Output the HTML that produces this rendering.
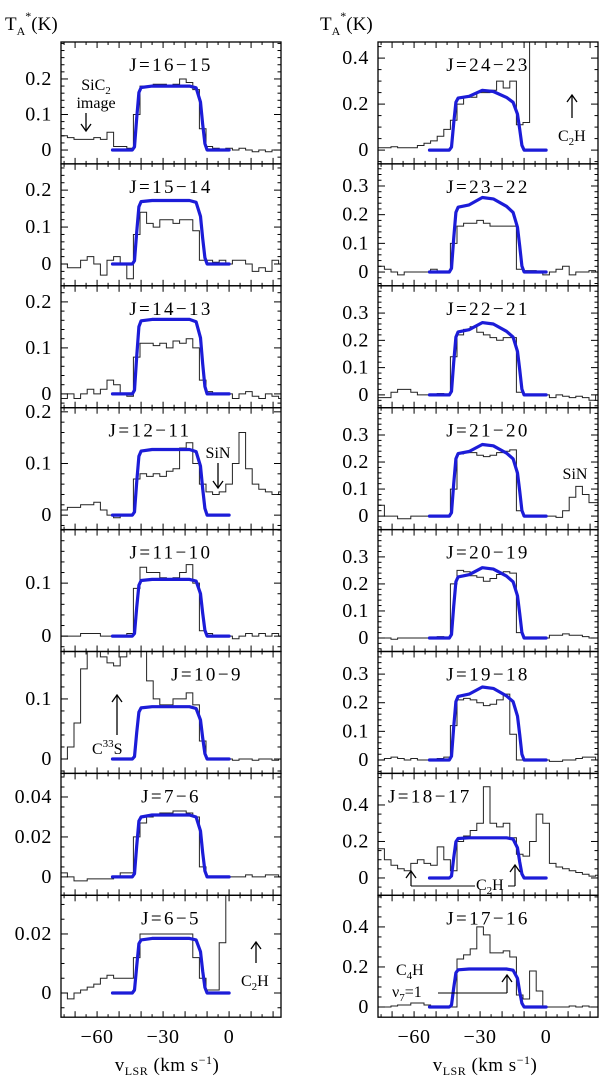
<!DOCTYPE html>
<html><head><meta charset="utf-8"><style>
html,body{margin:0;padding:0;background:#fff}
svg{display:block}
text{font-family:"Liberation Serif","DejaVu Serif",serif;fill:#000}
</style></head><body>
<svg id="chart" width="600" height="1079" viewBox="0 0 600 1079" xmlns="http://www.w3.org/2000/svg">
<defs id="defs"></defs>
<g id="panels"></g>
<g id="annot">
  <text x="5" y="30" font-size="19">T<tspan font-size="12" dy="5">A</tspan><tspan font-size="12" dy="-15">*</tspan><tspan dy="10">(K)</tspan></text>
  <text x="320" y="30" font-size="19">T<tspan font-size="12" dy="5">A</tspan><tspan font-size="12" dy="-15">*</tspan><tspan dy="10">(K)</tspan></text>
  <text x="167" y="1071" font-size="19" text-anchor="middle" letter-spacing="0.5">v<tspan font-size="12" dy="4">LSR</tspan><tspan dy="-4"> (km s</tspan><tspan font-size="12" dy="-7">−1</tspan><tspan dy="7">)</tspan></text>
  <text x="485" y="1071" font-size="19" text-anchor="middle" letter-spacing="0.5">v<tspan font-size="12" dy="4">LSR</tspan><tspan dy="-4"> (km s</tspan><tspan font-size="12" dy="-7">−1</tspan><tspan dy="7">)</tspan></text>
  <g>
    <text x="96" y="90" font-size="16" text-anchor="middle">SiC<tspan font-size="11" dy="4">2</tspan></text>
    <text x="96" y="108" font-size="16" text-anchor="middle">image</text>
    <line x1="86" y1="113" x2="86" y2="130" stroke="#000" stroke-width="1.3"/>
    <path d="M81,124 L86,131 L91,124" fill="none" stroke="#000" stroke-width="1.3"/>
  </g>
  <g>
    <text x="218" y="458" font-size="16" text-anchor="middle">SiN</text>
    <line x1="218" y1="463" x2="218" y2="488" stroke="#000" stroke-width="1.3"/>
    <path d="M213,481 L218,488 L223,481" fill="none" stroke="#000" stroke-width="1.3"/>
  </g>
  <g>
    <line x1="117" y1="695" x2="117" y2="735" stroke="#000" stroke-width="1.3"/>
    <path d="M112,702 L117,695 L122,702" fill="none" stroke="#000" stroke-width="1.3"/>
    <text x="92" y="754" font-size="16">C<tspan font-size="11" dy="-7">33</tspan><tspan dy="7">S</tspan></text>
  </g>
  <g>
    <line x1="256" y1="942" x2="256" y2="963" stroke="#000" stroke-width="1.3"/>
    <path d="M251,949 L256,942 L261,949" fill="none" stroke="#000" stroke-width="1.3"/>
    <text x="241" y="986" font-size="16">C<tspan font-size="11" dy="4">2</tspan><tspan dy="-4">H</tspan></text>
  </g>
  <g>
    <line x1="572" y1="95" x2="572" y2="118" stroke="#000" stroke-width="1.3"/>
    <path d="M567,102 L572,95 L577,102" fill="none" stroke="#000" stroke-width="1.3"/>
    <text x="558" y="141" font-size="16">C<tspan font-size="11" dy="4">2</tspan><tspan dy="-4">H</tspan></text>
  </g>
  <text x="575" y="479" font-size="16" text-anchor="middle">SiN</text>
  <g>
    <line x1="411" y1="871" x2="411" y2="886" stroke="#000" stroke-width="1.2"/>
    <path d="M406,878 L411,871 L416,878" fill="none" stroke="#000" stroke-width="1.3"/>
    <line x1="411" y1="886" x2="475" y2="886" stroke="#000" stroke-width="1"/>
    <text x="476" y="890" font-size="16">C<tspan font-size="11" dy="4">2</tspan><tspan dy="-4">H</tspan></text>
    <line x1="515" y1="865" x2="515" y2="886" stroke="#000" stroke-width="1.2"/>
    <line x1="508" y1="886" x2="515" y2="886" stroke="#000" stroke-width="1"/>
    <path d="M510,872 L515,865 L520,872" fill="none" stroke="#000" stroke-width="1.3"/>
  </g>
  <g>
    <text x="396" y="975" font-size="16">C<tspan font-size="11" dy="4">4</tspan><tspan dy="-4">H</tspan></text>
    <text x="392" y="997" font-size="16">ν<tspan font-size="11" dy="4">7</tspan><tspan dy="-4">=1</tspan></text>
    <line x1="438" y1="993" x2="507" y2="993" stroke="#000" stroke-width="1"/>
    <line x1="507" y1="975" x2="507" y2="993" stroke="#000" stroke-width="1.2"/>
    <path d="M502,982 L507,975 L512,982" fill="none" stroke="#000" stroke-width="1.3"/>
  </g>
</g>
</svg>
<script>
// Velocity bin centres (km/s), 3 km/s wide
const binCenters = [-75,-72,-69,-66,-63,-60,-57,-54,-51,-48,-45,-42,-39,-36,-33,-30,-27,-24,-21,-18,-15,-12,-9,-6,-3,0,3,6,9,12,15,18,21,24];
const modelV = [-53,-44,-43,-42,-41,-40,-35,-29,-24,-18,-15,-13,-12,-11,-10,0];
const panelLabels = ["J=16−15","J=15−14","J=14−13","J=12−11","J=11−10","J=10−9","J=7−6","J=6−5",
  "J=24−23","J=23−22","J=22−21","J=21−20","J=20−19","J=19−18","J=18−17","J=17−16"];
const yMins = [-0.039,-0.059,-0.030,-0.028,-0.029,-0.024,-0.0092,-0.0082,-0.060,-0.048,-0.047,-0.050,-0.050,-0.047,-0.095,-0.051];
const yMaxs = [0.304,0.271,0.235,0.208,0.201,0.179,0.0518,0.0331,0.470,0.377,0.400,0.401,0.401,0.379,0.573,0.558];
const yTickLabels = [["0","0.1","0.2"],["0","0.1","0.2"],["0","0.1","0.2"],["0","0.1","0.2"],["0","0.1"],["0","0.1"],["0","0.02","0.04"],["0","0.02"],
  ["0","0.2","0.4"],["0","0.1","0.2","0.3"],["0","0.1","0.2","0.3"],["0","0.1","0.2","0.3"],["0","0.1","0.2","0.3"],["0","0.1","0.2","0.3"],["0","0.2","0.4"],["0","0.2","0.4"]];
const yMinorStep = [0.02,0.02,0.02,0.02,0.02,0.02,0.005,0.005,0.05,0.02,0.02,0.02,0.02,0.02,0.05,0.05];
const obs1 = [0.04,0.035,0.03,0.03,0.03,0.035,0.03,0.05,0.01,0.01,0.005,0.10,0.18,0.18,0.185,0.185,0.18,0.185,0.2,0.19,0.17,0.06,0.01,0.005,0.0,0.005,0.0,0.005,0.0,-0.005,0.0,-0.005,0.0,0.0];
const obs2 = [0.0,-0.01,-0.01,0.01,0.02,0.0,-0.03,0.01,0.02,0.0,-0.04,0.08,0.14,0.11,0.1,0.12,0.12,0.11,0.12,0.12,0.09,0.01,0.01,0.005,0.01,0.0,0.01,0.01,0.0,-0.02,-0.01,-0.02,0.01,0.0];
const obs3 = [-0.01,0.0,-0.01,0.0,0.01,0.0,0.01,0.03,0.02,0.0,-0.005,0.08,0.11,0.11,0.105,0.11,0.10,0.115,0.11,0.12,0.10,0.03,0.005,0.0,0.0,0.0,-0.01,0.0,0.005,-0.005,-0.01,0.0,-0.005,-0.01];
const obs4 = [0.01,0.015,0.015,0.02,0.02,0.025,0.01,0.0,-0.005,0.0,0.0,0.07,0.08,0.075,0.08,0.075,0.085,0.09,0.13,0.14,0.10,0.06,0.045,0.04,0.045,0.06,0.1,0.16,0.09,0.06,0.05,0.045,0.04,0.045];
const obs5 = [0.0,0.0,0.0,0.005,0.005,0.005,0.0,0.0,0.0,0.0,0.005,0.09,0.13,0.12,0.12,0.11,0.105,0.11,0.12,0.135,0.10,0.01,0.005,0.0,0.0,0.0,-0.005,0.0,0.005,0.0,0.005,0.0,0.005,0.0];
const obs6 = [0.0,0.02,0.06,0.15,0.2,0.2,0.17,0.16,0.155,0.17,0.2,0.2,0.2,0.13,0.1,0.09,0.09,0.1,0.1,0.11,0.09,0.03,0.0,0.0,0.0,0.0,-0.002,0.0,0.0,-0.002,0.0,0.0,-0.002,0.0];
const obs7 = [0.002,0.0,-0.002,-0.002,-0.001,-0.001,-0.001,-0.001,0.0,0.002,0.002,0.02,0.027,0.03,0.031,0.032,0.032,0.033,0.033,0.032,0.03,0.005,0.0,0.0,0.0,0.0,0.0,0.0,0.001,0.0,0.0,0.001,0.001,0.0];
const obs8 = [0.0,-0.002,0.0,0.001,0.002,0.003,0.005,0.006,0.005,0.005,0.005,0.012,0.02,0.02,0.02,0.02,0.02,0.02,0.02,0.02,0.012,0.005,0.001,0.001,0.017,0.05,0.05,0.05,0.05,0.05,0.05,0.05,0.05,0.05];
const obs9 = [0.01,0.01,0.015,0.01,0.01,0.01,0.02,0.03,0.04,0.06,0.09,0.13,0.2,0.23,0.23,0.25,0.25,0.26,0.3,0.27,0.3,0.11,0.12,0.6,0.6,0.6,0.6,0.6,0.6,0.6,0.6,0.6,0.6,0.6];
const obs10 = [0.02,0.01,0.0,-0.01,0.0,0.0,0.0,0.0,0.01,0.0,0.0,0.1,0.16,0.17,0.17,0.18,0.17,0.16,0.16,0.16,0.16,0.01,0.005,0.005,0.0,-0.01,0.0,0.01,0.02,-0.01,0.0,0.0,0.005,0.0];
const obs11 = [-0.01,-0.01,0.01,0.02,0.02,0.01,0.0,0.0,0.0,0.005,0.0,0.14,0.22,0.24,0.25,0.23,0.22,0.21,0.2,0.21,0.21,0.01,0.0,0.0,0.0,0.0,-0.01,0.0,-0.005,-0.01,-0.005,-0.01,-0.02,0.0];
const obs12 = [0.04,0.0,0.0,-0.01,-0.01,0.0,0.0,0.0,0.0,0.0,0.0,0.1,0.23,0.235,0.235,0.225,0.22,0.225,0.235,0.24,0.245,0.02,0.0,0.0,0.0,0.0,0.0,-0.005,0.02,0.07,0.11,0.08,0.05,0.05];
const obs13 = [0.0,0.0,-0.005,0.0,0.0,0.0,0.0,0.0,0.0,0.005,0.0,0.2,0.25,0.245,0.23,0.225,0.21,0.22,0.235,0.245,0.24,0.02,0.0,0.0,0.0,0.0,0.01,0.01,0.015,0.01,0.01,0.005,0.0,0.0];
const obs14 = [0.0,0.005,0.01,0.005,0.0,0.005,0.0,0.0,0.0,0.005,0.01,0.12,0.21,0.215,0.21,0.2,0.19,0.195,0.21,0.23,0.09,0.0,0.0,0.0,0.0,0.0,-0.005,-0.005,0.0,0.0,0.005,0.01,0.01,0.0];
const obs15 = [0.16,0.1,0.07,0.05,0.04,0.08,0.1,0.08,0.07,0.17,0.1,0.04,0.2,0.23,0.26,0.3,0.5,0.3,0.28,0.3,0.22,0.13,0.12,0.2,0.35,0.3,0.08,0.06,0.05,0.04,0.03,0.02,0.01,0.015];
const obs16 = [0.0,0.0,0.005,0.01,0.01,0.02,0.02,0.01,0.005,0.005,0.005,0.0,0.24,0.26,0.29,0.4,0.36,0.27,0.27,0.28,0.25,0.06,0.04,0.18,0.08,0.0,0.0,0.0,0.0,0.005,0.0,0.005,0.0,0.0];
const mod1 = [0,0,.009,.09,.162,.176,.18,.18,.18,.18,.175,.135,.072,.018,0,0];
const mod2 = [0,0,.009,.086,.155,.169,.172,.172,.172,.172,.167,.129,.069,.017,0,0];
const mod3 = [0,0,.008,.081,.146,.159,.162,.162,.162,.162,.157,.122,.065,.016,0,0];
const mod4 = [0,0,.006,.064,.114,.124,.127,.127,.127,.127,.123,.095,.051,.013,0,0];
const mod5 = [0,0,.005,.054,.096,.105,.107,.107,.107,.107,.104,.08,.043,.011,0,0];
const mod6 = [0,0,.004,.044,.078,.085,.087,.087,.087,.087,.084,.065,.035,.009,0,0];
const mod7 = [0,0,.0016,.0155,.028,.030,.031,.031,.031,.031,.030,.023,.012,.003,0,0];
const mod8 = [0,0,.001,.009,.0167,.018,.0185,.0185,.0185,.0185,.018,.014,.0074,.0019,0,0];
const mod9 = [0,0,.013,.117,.208,.226,.234,.26,.255,.229,.208,.156,.091,.021,0,0];
const mod10 = [0,0,.013,.117,.208,.226,.234,.26,.255,.229,.208,.156,.091,.021,0,0];
const mod11 = [0,0,.013,.119,.212,.231,.239,.265,.26,.233,.212,.159,.093,.021,0,0];
const mod12 = [0,0,.013,.119,.212,.231,.239,.265,.26,.233,.212,.159,.093,.021,0,0];
const mod13 = [0,0,.013,.117,.208,.226,.234,.26,.255,.229,.208,.156,.091,.021,0,0];
const mod14 = [0,0,.013,.115,.204,.222,.23,.255,.25,.224,.204,.153,.089,.02,0,0];
const mod15 = [0,0,.011,.11,.198,.216,.22,.22,.22,.22,.213,.165,.088,.022,0,0];
const mod16 = [0,0,.01,.095,.171,.186,.19,.19,.19,.19,.184,.143,.076,.019,0,0];
const observed = [obs1,obs2,obs3,obs4,obs5,obs6,obs7,obs8,obs9,obs10,obs11,obs12,obs13,obs14,obs15,obs16];
const models = [mod1,mod2,mod3,mod4,mod5,mod6,mod7,mod8,mod9,mod10,mod11,mod12,mod13,mod14,mod15,mod16];
const xTickLabels = ["−60","−30","0"];
const xTickValues = [-60,-30,0];

const NS = "http://www.w3.org/2000/svg";
const VMIN = -76.4, VMAX = 23.6, BIN = 3;
const PW = 220, PH = 121.9, TOP0 = 42;
const colLeft = [61, 378];
const labelPos = {3:["mid",150],5:["mid",207],14:["start",388]};
function mk(tag, attrs, parent){const e=document.createElementNS(NS,tag);for(const k in attrs)e.setAttribute(k,attrs[k]);parent.appendChild(e);return e;}
const root = document.getElementById('panels');
const defs = document.getElementById('defs');

for (let p=0;p<16;p++){
  const col = p<8?0:1, row = p%8;
  const x0 = colLeft[col], y0 = TOP0 + row*PH;
  const xs = v => x0 + (v-VMIN)/(VMAX-VMIN)*PW;
  const ys = t => y0 + PH - (t-yMins[p])/(yMaxs[p]-yMins[p])*PH;
  const g = mk('g',{},root);
  
  
  const cp = mk('clipPath',{id:'cp'+p},defs);
  mk('rect',{x:x0,y:y0,width:PW,height:PH},cp);
  let d='';
  for(let i=0;i<binCenters.length;i++){
    const l=xs(binCenters[i]-BIN/2), r=xs(binCenters[i]+BIN/2), y=ys(observed[p][i]).toFixed(1);
    d += (i===0?'M':'L')+l.toFixed(1)+','+y+' L'+r.toFixed(1)+','+y+' ';
  }
  const h = mk('path',{d:d,fill:'none',stroke:'#222','stroke-width':1,'clip-path':'url(#cp'+p+')'},g);
  
  
  let md='';
  for(let i=0;i<modelV.length;i++){md+=(i===0?'M':'L')+xs(modelV[i]).toFixed(1)+','+ys(models[p][i]).toFixed(1)+' ';}
  const m = mk('path',{d:md,fill:'none',stroke:'#1c1cd8','stroke-width':3.2,'stroke-linejoin':'round','stroke-linecap':'round','clip-path':'url(#cp'+p+')'},g);
  
  
  mk('rect',{x:x0,y:y0,width:PW,height:PH,fill:'none',stroke:'#000','stroke-width':1.3},g);
  for(let v=-75; v<=20; v+=5){
    const X=xs(v), len = (v%10===0)?6:3;
    mk('line',{x1:X,y1:y0+PH,x2:X,y2:y0+PH-len,stroke:'#000','stroke-width':1},g);
    mk('line',{x1:X,y1:y0,x2:X,y2:y0+len,stroke:'#000','stroke-width':1},g);
  }
  const st=yMinorStep[p];
  for(let k=Math.ceil(yMins[p]/st);k*st<=yMaxs[p];k++){
    const t=k*st, Y=ys(t);
    const major = yTickLabels[p].some(s=>Math.abs(parseFloat(s)-t)<1e-9);
    const len = major?7:3.5;
    mk('line',{x1:x0,y1:Y,x2:x0+len,y2:Y,stroke:'#000','stroke-width':1},g);
    mk('line',{x1:x0+PW,y1:Y,x2:x0+PW-len,y2:Y,stroke:'#000','stroke-width':1},g);
  }
  yTickLabels[p].forEach(s=>{
    const t=mk('text',{x:x0-9,y:ys(parseFloat(s))+6,'font-size':20,'text-anchor':'end','letter-spacing':'0.6'},g);
    t.textContent=s;
    
    
  });
  const lp = labelPos[p];
  let lx = x0+110, anc='middle';
  if(lp){ if(lp[0]==='start'){lx=lp[1];anc='start';} else lx=lp[1]; }
  const lt = mk('text',{x:lx,y:y0+29,'font-size':19,'text-anchor':anc,'letter-spacing':'2.4'},g);
  lt.textContent = panelLabels[p];
  
  
  if(row===7){
    xTickValues.forEach((v,i)=>{
      const t=mk('text',{x:xs(v),y:y0+PH+26,'font-size':20,'text-anchor':'middle','letter-spacing':'0.6'},g);
      t.textContent=xTickLabels[i];
      
      
    });
  }
}
</script>
</body></html>
